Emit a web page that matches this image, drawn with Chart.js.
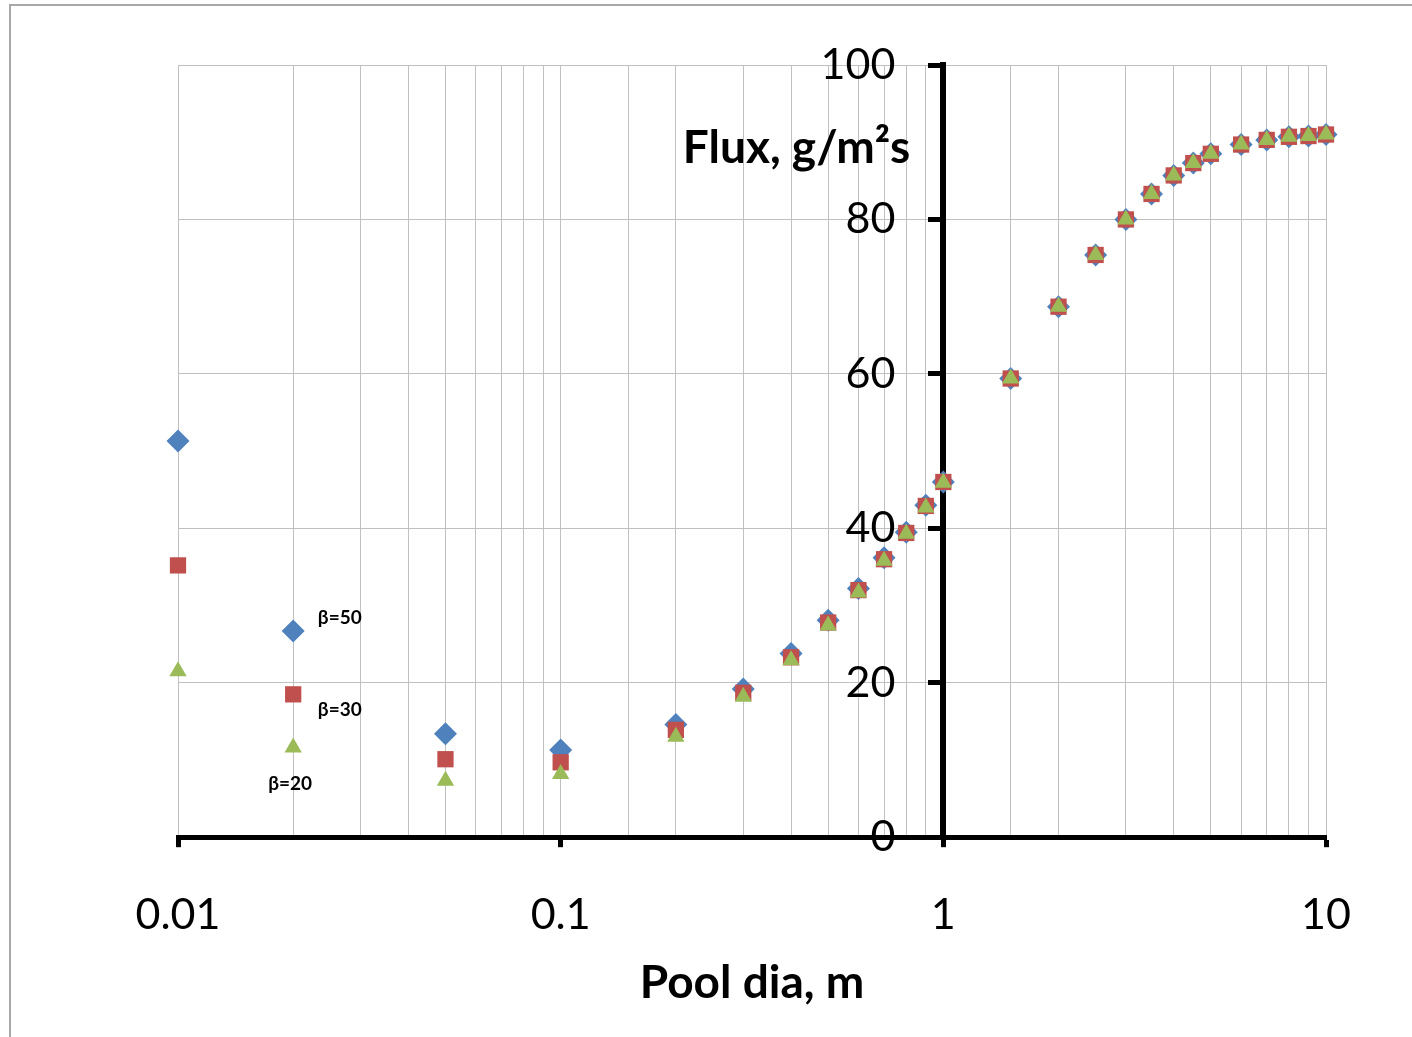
<!DOCTYPE html>
<html>
<head>
<meta charset="utf-8">
<title>Flux vs pool diameter</title>
<script src="https://cdn.jsdelivr.net/npm/chart.js@4.4.1/dist/chart.umd.min.js"></script>
<style>
  body { margin: 0; background: #fff; }
  #wrap { position: relative; width: 1412px; height: 1037px; }
  #frame {
    position: absolute; left: 9px; top: 4px; right: 0; bottom: 0;
    border-left: 2px solid #a8a8a8; border-top: 2px solid #a8a8a8;
    pointer-events: none;
  }
</style>
</head>
<body>
<div id="wrap">
  <canvas id="fluxChart" width="1412" height="1037"></canvas>
  <div id="frame"></div>
</div>
<script>
// pool diameter, m
const diameters = [0.01, 0.02, 0.05, 0.1, 0.2, 0.3, 0.4, 0.5, 0.6, 0.7, 0.8, 0.9, 1,
  1.5, 2, 2.5, 3, 3.5, 4, 4.5, 5, 6, 7, 8, 9, 10];

// burning flux, g/m2s
const fluxBeta50 = [51.3, 26.7, 13.4, 11.3, 14.6, 19.2, 23.8, 28.1, 32.2, 36.2, 39.5, 43.0, 46.0,
  59.4, 68.7, 75.4, 80.0, 83.3, 85.7, 87.3, 88.5, 89.7, 90.3, 90.7, 90.8, 91.0];
const fluxBeta30 = [35.2, 18.5, 10.1, 9.7, 13.9, 18.7, 23.3, 27.8, 32.0, 36.0, 39.4, 42.9, 46.0,
  59.4, 68.7, 75.4, 80.0, 83.3, 85.7, 87.3, 88.5, 89.7, 90.3, 90.7, 90.8, 91.0];
const fluxBeta20 = [21.5, 11.6, 7.3, 8.2, 13.0, 18.2, 22.9, 27.4, 31.7, 35.8, 39.3, 42.7, 45.9,
  59.4, 68.7, 75.4, 80.0, 83.3, 85.7, 87.3, 88.5, 89.7, 90.3, 90.7, 90.8, 91.0];

const decadeTicks = [0.01, 0.1, 1, 10];
const fluxMin = 0;
const fluxMax = 100;
const fluxStep = 20;

// small series tags next to the left-hand points
const betaLabels = [
  { text: "β=50", x: 0.0232, y: 28.4 },
  { text: "β=30", x: 0.0232, y: 16.5 },
  { text: "β=20", x: 0.0172, y: 6.9 },
];

const FONT = "Lato, 'Liberation Sans', sans-serif";

const toPoints = (ys) => diameters.map((d, i) => ({ x: d, y: ys[i] }));
const isDecade = (v) => decadeTicks.some((d) => Math.abs(Math.log10(v) - Math.log10(d)) < 1e-6);

// y tick labels, axis title and beta tags; the y axis sits at x = 1
const textPlugin = {
  id: "chartText",
  afterDraw(chart) {
    const { ctx, scales } = chart;
    const xs = scales.x;
    const ys = scales.y;
    const axisX = xs.getPixelForValue(1);
    ctx.save();
    ctx.fillStyle = "#000";

    ctx.font = "43px " + FONT;
    ctx.textAlign = "right";
    ctx.textBaseline = "middle";
    ys.ticks.forEach((t) => {
      ctx.fillText(String(t.value), axisX - 48, ys.getPixelForValue(t.value));
    });

    ctx.font = "bold 46px " + FONT;
    ctx.fillText("Flux, g/m²s", axisX - 33, ys.getPixelForValue(89.2));

    ctx.font = "bold 19px " + FONT;
    ctx.textAlign = "left";
    betaLabels.forEach((lab) => {
      ctx.fillText(lab.text, xs.getPixelForValue(lab.x), ys.getPixelForValue(lab.y));
    });
    ctx.restore();
  },
};

const ctx = document.getElementById("fluxChart").getContext("2d");

new Chart(ctx, {
  type: "scatter",
  data: {
    datasets: [
      {
        label: "β=50",
        data: toPoints(fluxBeta50),
        pointStyle: "rectRot",
        pointRadius: 11.5,
        backgroundColor: "#4F81BD",
        borderColor: "#4F81BD",
        borderWidth: 0,
        clip: false,
        order: 2,
      },
      {
        label: "β=30",
        data: toPoints(fluxBeta30),
        pointStyle: "rect",
        pointRadius: 11.5,
        backgroundColor: "#C0504D",
        borderColor: "#C0504D",
        borderWidth: 0,
        clip: false,
        order: 1,
      },
      {
        label: "β=20",
        data: toPoints(fluxBeta20),
        pointStyle: "triangle",
        pointRadius: 10,
        backgroundColor: "#9BBB59",
        borderColor: "#9BBB59",
        borderWidth: 0,
        clip: false,
        order: 0,
      },
    ],
  },
  options: {
    responsive: false,
    animation: false,
    layout: { padding: { left: 178, right: 86, top: 65, bottom: 26 } },
    plugins: {
      legend: { display: false },
      tooltip: { enabled: false },
    },
    scales: {
      x: {
        type: "logarithmic",
        position: "bottom",
        min: 0.01,
        max: 10,
        grid: {
          color: "#c0c0c0",
          lineWidth: 1,
          tickLength: 10,
          tickWidth: 5,
          tickColor: (c) => (c.tick && isDecade(c.tick.value) ? "#000" : "rgba(0,0,0,0)"),
        },
        border: { display: true, color: "#000", width: 5 },
        ticks: {
          autoSkip: false,
          maxRotation: 0,
          padding: 42,
          color: "#000",
          font: { family: FONT, size: 43 },
          callback: (value) => (isDecade(value) ? String(value) : ""),
        },
        title: {
          display: true,
          text: "Pool dia, m",
          color: "#000",
          font: { family: FONT, size: 46, weight: "bold" },
          padding: { top: -27, bottom: 0 },
        },
      },
      y: {
        type: "linear",
        position: { x: 1 },
        min: fluxMin,
        max: fluxMax,
        grid: {
          color: "#c0c0c0",
          lineWidth: 1,
          tickLength: 12,
          tickWidth: 5,
          tickColor: "#000",
        },
        border: { display: true, color: "#000", width: 6 },
        ticks: {
          stepSize: fluxStep,
          display: false,
        },
      },
    },
  },
  plugins: [textPlugin],
});
</script>
</body>
</html>
